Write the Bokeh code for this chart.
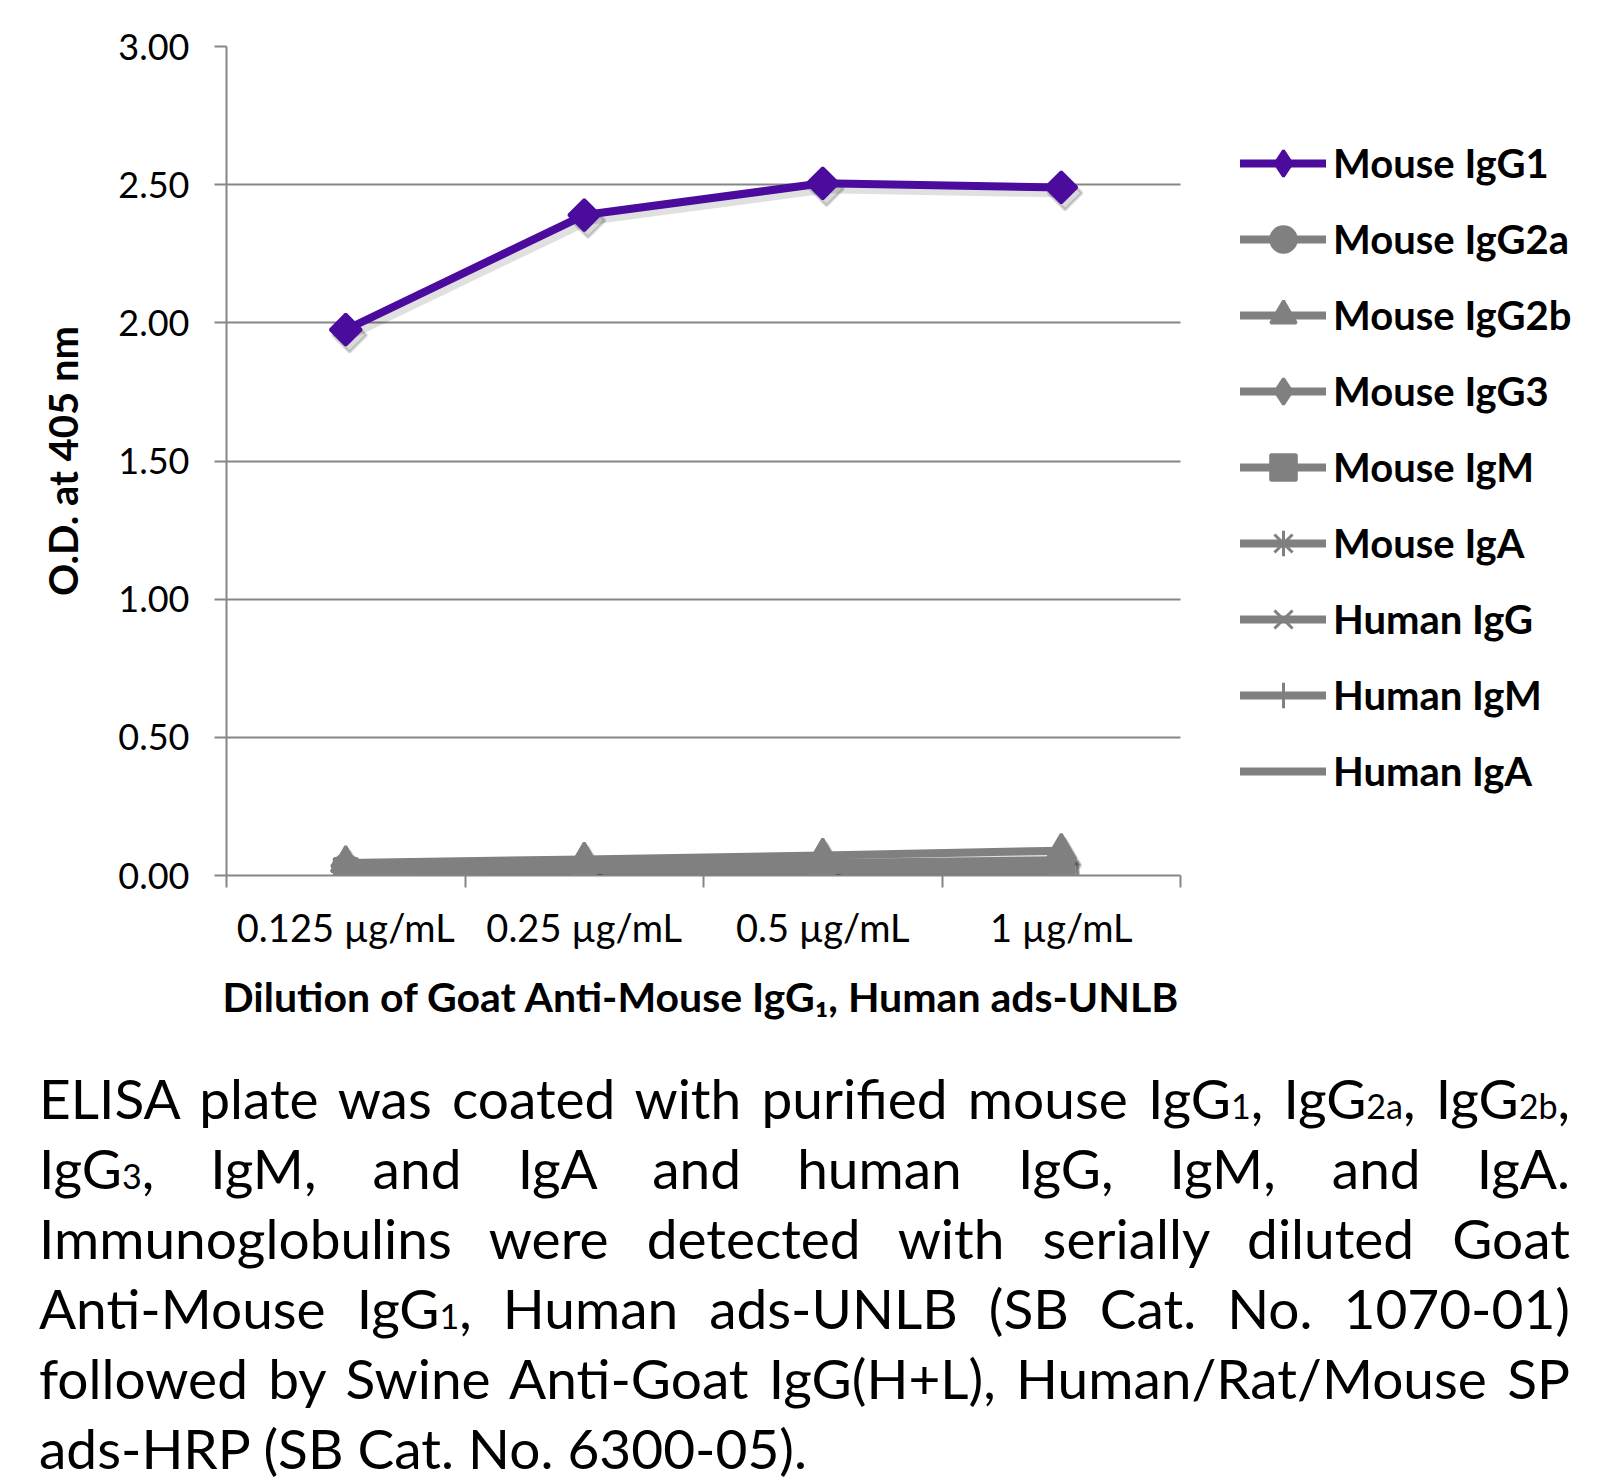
import numpy as np
from bokeh.plotting import figure
from bokeh.models import (Range1d, FixedTicker, Legend, LegendItem, Div,
                          NumeralTickFormatter, Title, Grid)
from bokeh.layouts import column
from bokeh.embed import file_html
from bokeh.resources import INLINE

# ---------------- data ----------------
categories = ["0.125 \u00b5g/mL", "0.25 \u00b5g/mL", "0.5 \u00b5g/mL", "1 \u00b5g/mL"]
y_ticks = [0.0, 0.5, 1.0, 1.5, 2.0, 2.5, 3.0]

series_names = ["Mouse IgG1", "Mouse IgG2a", "Mouse IgG2b", "Mouse IgG3", "Mouse IgM",
                "Mouse IgA", "Human IgG", "Human IgM", "Human IgA"]
mouse_igg1 = [1.975, 2.39, 2.505, 2.49]
mouse_igg2a = [0.03, 0.03, 0.03, 0.035]
mouse_igg2b = [0.045, 0.058, 0.072, 0.090]
mouse_igg3 = [0.035, 0.04, 0.045, 0.055]
mouse_igm = [0.02, 0.02, 0.02, 0.025]
mouse_iga = [0.025, 0.025, 0.025, 0.03]
human_igg = [0.02, 0.025, 0.025, 0.03]
human_igm = [0.015, 0.02, 0.02, 0.02]
human_iga = [0.02, 0.02, 0.02, 0.02]
series_values = [mouse_igg1, mouse_igg2a, mouse_igg2b, mouse_igg3, mouse_igm,
                 mouse_iga, human_igg, human_igm, human_iga]

x_title = "Dilution of Goat Anti-Mouse IgG\u2081, Human ads-UNLB"
y_title = "O.D. at 405 nm"

caption_lines = [
    "ELISA plate was coated with purified mouse IgG{1}, IgG{2a}, IgG{2b},",
    "IgG{3}, IgM, and IgA and human IgG, IgM, and IgA.",
    "Immunoglobulins were detected with serially diluted Goat",
    "Anti-Mouse IgG{1}, Human ads-UNLB (SB Cat. No. 1070-01)",
    "followed by Swine Anti-Goat IgG(H+L), Human/Rat/Mouse SP",
    "ads-HRP (SB Cat. No. 6300-05).",
]

# ---------------- styles / layout ----------------
PURPLE = "#4B0C9E"
GRAY = "#808080"
AXIS = "#868686"
FONT = "Lato"
colors = [PURPLE] + [GRAY] * 8
# (plot marker, angle, size, legend marker)
markers = [("square", np.pi / 4, 22, "diamond"), ("circle", 0, 25, "circle"),
           ("triangle", 0, 29, "triangle"), ("square", np.pi / 4, 20, "diamond"),
           ("square", 0, 23, "square"), ("asterisk", 0, 27, "asterisk"),
           ("x", 0, 25, "x"), ("cross", 0, 27, "cross"), (None, 0, 0, None)]

W, H = 1612, 1056
LEFT, TOP, BOTTOM = 226, 46, 181
PLOT_W = 954            # width of the category area in px
n = len(categories)
x = np.arange(1, n + 1)
px_per_unit = PLOT_W / n
x_end = 0.5 + (W - LEFT) / px_per_unit   # frame extends to the right to host the legend

p = figure(width=W, height=H, x_range=Range1d(0.5, x_end), y_range=Range1d(0, 3),
           output_backend="svg", toolbar_location=None,
           min_border_left=LEFT, min_border_right=0, min_border_top=TOP,
           min_border_bottom=BOTTOM)
p.outline_line_color = None
p.background_fill_color = "white"
p.border_fill_color = "white"
p.xgrid.visible = False
p.ygrid.grid_line_color = AXIS
p.ygrid.grid_line_width = 2
if "cross_bounds" in Grid.properties():
    p.ygrid.cross_bounds = (0.5, n + 0.5)
else:
    p.ygrid.visible = False
    p.segment(x0=0.5, x1=n + 0.5, y0=y_ticks, y1=y_ticks, line_color=AXIS, line_width=2)

# y axis
p.yaxis.ticker = FixedTicker(ticks=y_ticks)
p.yaxis.formatter = NumeralTickFormatter(format="0.00")
p.yaxis.axis_line_color = AXIS
p.yaxis.axis_line_width = 2
p.yaxis.major_tick_line_color = AXIS
p.yaxis.major_tick_line_width = 2
p.yaxis.major_tick_out = 12
p.yaxis.major_tick_in = 0
p.yaxis.minor_tick_line_color = None
p.yaxis.major_label_standoff = 25
p.yaxis.major_label_text_font = FONT
p.yaxis.major_label_text_font_size = "36px"
p.yaxis.major_label_text_color = "black"
p.yaxis.axis_label = y_title
p.yaxis.axis_label_text_font = FONT
p.yaxis.axis_label_text_font_style = "bold"
p.yaxis.axis_label_text_font_size = "40px"
p.yaxis.axis_label_text_color = "black"
p.yaxis.axis_label_standoff = 28

# x axis
p.xaxis.bounds = (0.5, n + 0.5)
p.xaxis.ticker = FixedTicker(ticks=[int(v) for v in x],
                             minor_ticks=[float(v) - 0.5 for v in x] + [n + 0.5])
p.xaxis.major_label_overrides = {int(v): c for v, c in zip(x, categories)}
p.xaxis.axis_line_color = AXIS
p.xaxis.axis_line_width = 2
p.xaxis.major_tick_out = 0
p.xaxis.major_tick_in = 0
p.xaxis.major_tick_line_color = None
p.xaxis.minor_tick_line_color = AXIS
p.xaxis.minor_tick_line_width = 2
p.xaxis.minor_tick_out = 12
p.xaxis.minor_tick_in = 0
p.xaxis.major_label_standoff = 16
p.xaxis.major_label_text_font = FONT
p.xaxis.major_label_text_font_size = "38px"
p.xaxis.major_label_text_color = "black"

# x axis title, centred under the category area
p.add_layout(Title(text=x_title, align="left", offset=-4, standoff=34,
                   text_font=FONT, text_font_style="bold", text_font_size="41px",
                   text_color="black"), "below")

# shadows (soft drop shadow like the original)
dx, dy = 0.016, 0.02
for vals, (mk, ang, sz, _) in zip(series_values, markers):
    sx = x + dx
    sy = np.array(vals) - dy
    p.line(sx, sy, line_color="black", line_alpha=0.12, line_width=9)
    if mk is not None:
        p.scatter(sx, sy, marker=mk, angle=ang, size=sz + 2, fill_color="black",
                  fill_alpha=0.15, line_color="black", line_alpha=0.15, line_width=3)

order = list(range(1, len(series_names))) + [0]
renderers = {}
for i in order:
    vals = series_values[i]
    mk, ang, sz, lmk = markers[i]
    c = colors[i]
    rl = p.line(x, vals, line_color=c, line_width=8, line_cap="round", line_join="round")
    rs = []
    if mk is not None:
        p.scatter(x, vals, marker=mk, angle=ang, size=sz, fill_color=c,
                  line_color=c, line_width=3)
        # legend sample of the marker (no data point in the plot area)
        r = p.scatter([np.nan], [np.nan], marker=lmk, size=sz, fill_color=c,
                      line_color=c, line_width=3)
        rs = [r]
    renderers[i] = [rl] + rs

items = [LegendItem(label=name, renderers=renderers[i]) for i, name in enumerate(series_names)]

legend = Legend(items=items, location=(PLOT_W + 60, 72.5), orientation="vertical",
                glyph_width=86, glyph_height=64, label_height=64, spacing=12,
                padding=0, margin=0, label_standoff=7, border_line_color=None,
                background_fill_alpha=0, label_text_font=FONT,
                label_text_font_style="bold", label_text_font_size="40px",
                label_text_color="black")
p.add_layout(legend, "center")

# caption
def fmt(line):
    out = line
    for s in ["1", "2a", "2b", "3"]:
        out = out.replace("{" + s + "}",
                          f'<span style="font-size:0.62em;line-height:0;">{s}</span>')
    return out

html_lines = []
for k, line in enumerate(caption_lines):
    last = "justify" if k < len(caption_lines) - 1 else "left"
    html_lines.append(
        f'<div style="text-align:justify;text-align-last:{last};white-space:nowrap;">{fmt(line)}</div>')

div = Div(text='<div style="width:1531px;">' + "".join(html_lines) + "</div>",
          width=1531, height=420, margin=(7, 0, 0, 39),
          styles={"font-family": FONT, "font-size": "55px", "line-height": "70px",
                  "color": "black"})

layout = column(p, div, spacing=0)
open("out.html", "w").write(file_html(layout, INLINE))
